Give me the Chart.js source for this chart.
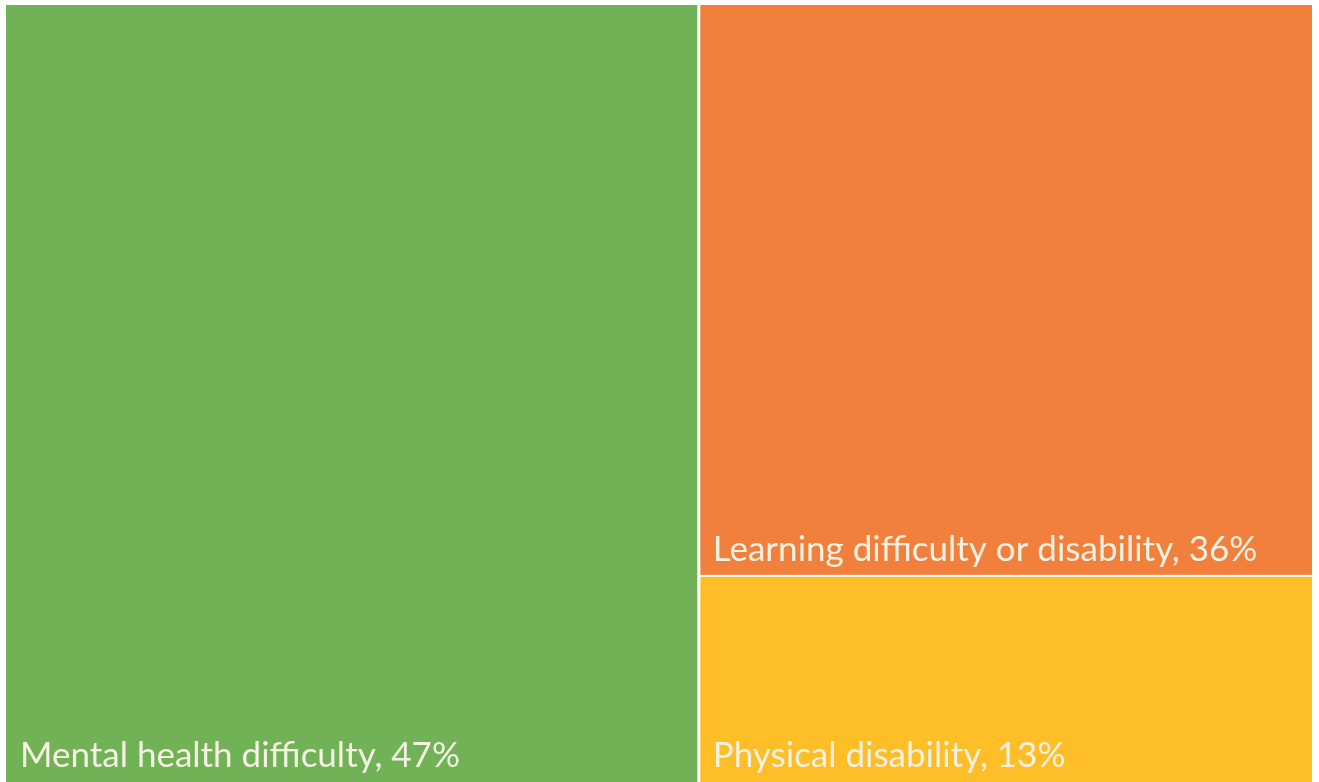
<!DOCTYPE html>
<html>
<head>
<meta charset="utf-8">
<script src="https://cdn.jsdelivr.net/npm/chart.js@4.4.1/dist/chart.umd.min.js"></script>
<style>
  html, body { margin: 0; padding: 0; background: #fff; }
  #wrap { width: 1319px; height: 782px; }
</style>
</head>
<body>
<div id="wrap"><canvas id="treeChart" width="1319" height="782"></canvas></div>
<script>
// Datos del treemap
const categories = ["Mental health difficulty", "Learning difficulty or disability", "Physical disability"];
const shares = [47, 36, 13];
const colors = ["#70b255", "#f0803c", "#fdbe28"];

const colHeight = shares[1] + shares[2]; // la columna derecha apila las dos últimas categorías
const xMax = 88.6; // ancho total del eje x (columna izquierda = shares[0])

// Cada rectángulo es una línea horizontal rellenada hacia abajo
const datasets = [
  {
    label: categories[0],
    data: [{ x: 0, y: colHeight }, { x: shares[0], y: colHeight }],
    backgroundColor: colors[0],
    fill: "origin"
  },
  {
    label: categories[2],
    data: [{ x: shares[0], y: shares[2] }, { x: xMax, y: shares[2] }],
    backgroundColor: colors[2],
    fill: "origin"
  },
  {
    label: categories[1],
    data: [{ x: shares[0], y: colHeight }, { x: xMax, y: colHeight }],
    backgroundColor: colors[1],
    fill: { value: shares[2] }
  }
].map(d => ({ ...d, borderWidth: 0, pointRadius: 0, tension: 0 }));

// Separadores blancos y etiquetas abajo a la izquierda de cada bloque
const treemapLabels = {
  id: "treemapLabels",
  afterDatasetsDraw(chart) {
    const { ctx, chartArea, scales: { x, y } } = chart;
    const xSplit = x.getPixelForValue(shares[0]);
    const ySplit = y.getPixelForValue(shares[2]);

    ctx.save();
    ctx.fillStyle = "#ffffff";
    ctx.fillRect(xSplit - 1.5, chartArea.top, 3, chartArea.bottom - chartArea.top);
    ctx.fillRect(xSplit, ySplit - 1, chartArea.right - xSplit, 2);

    // esquina inferior izquierda de cada bloque (en valores del eje)
    const corners = [
      [0, 0],
      [shares[0], shares[2]],
      [shares[0], 0]
    ];
    ctx.font = "35px Lato";
    ctx.fillStyle = "#f5f1e3";
    ctx.textBaseline = "alphabetic";
    categories.forEach((cat, i) => {
      const px = x.getPixelForValue(corners[i][0]) + 14;
      const py = y.getPixelForValue(corners[i][1]) - 15;
      ctx.fillText(`${cat}, ${shares[i]}%`, px, py);
    });
    ctx.restore();
  }
};

new Chart(document.getElementById("treeChart"), {
  type: "line",
  data: { datasets },
  options: {
    responsive: false,
    animation: false,
    layout: { padding: { left: 6, top: 5, right: 7, bottom: 0 } },
    scales: {
      x: { type: "linear", min: 0, max: xMax, display: false },
      y: { min: 0, max: colHeight, display: false }
    },
    plugins: {
      legend: { display: false },
      tooltip: { enabled: false }
    }
  },
  plugins: [treemapLabels]
});
</script>
</body>
</html>
